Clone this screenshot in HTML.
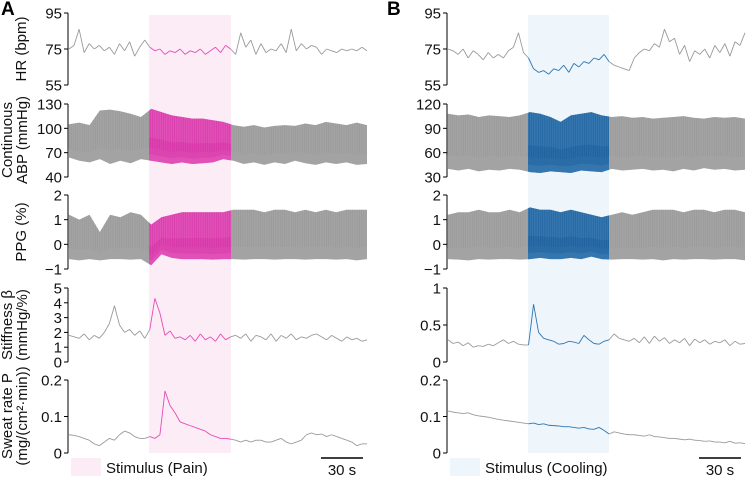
<!DOCTYPE html>
<html><head><meta charset="utf-8"><style>
html,body{margin:0;padding:0;background:#fff;}
svg{display:block;font-family:"Liberation Sans",sans-serif;}
</style></head><body>
<svg id="fig" width="750" height="478" viewBox="0 0 750 478" xmlns="http://www.w3.org/2000/svg"></svg>
<script>
// ---------- DATA ----------
const hrA=[75,77,86,73,78,75,77,74,76,72,78,74,79,71,76,80,76,74,75,72,74,73,75,72,74,73,75,72,74,76,73,77,75,72,84,76,80,72,78,73,75,74,78,73,86,74,78,75,77,76,72,75,74,73,75,74,75,74,76,74];
const abpUpA=[105,107,104,122,123,121,118,114,124,120,116,114,112,112,110,108,104,102,104,101,103,104,103,106,104,108,106,104,107,104];
const abpLoA=[64,60,58,62,56,60,57,62,60,58,56,58,56,57,58,62,60,56,58,55,58,56,60,57,55,58,56,58,55,56];
const ppgUpA=[1.2,1.0,1.2,0.5,1.2,1.1,1.3,1.2,0.8,1.1,1.2,1.3,1.3,1.3,1.3,1.3,1.4,1.4,1.4,1.3,1.4,1.4,1.3,1.4,1.3,1.4,1.3,1.4,1.4,1.4];
const ppgLoA=[-0.6,-0.65,-0.6,-0.65,-0.6,-0.6,-0.62,-0.6,-0.85,-0.4,-0.55,-0.6,-0.6,-0.6,-0.62,-0.6,-0.6,-0.62,-0.6,-0.6,-0.62,-0.6,-0.6,-0.62,-0.6,-0.6,-0.62,-0.6,-0.65,-0.6];
const stA=[1.8,1.7,1.6,1.9,1.5,1.8,1.6,2.0,2.6,3.8,2.5,2.0,2.2,1.8,2.1,1.6,2.2,4.3,3.3,1.8,2.1,1.6,1.7,1.5,1.8,1.4,1.9,1.5,1.7,1.4,1.9,1.5,1.7,1.8,1.6,1.9,1.4,1.8,1.7,1.5,1.9,1.4,1.8,1.6,1.9,1.5,1.7,1.6,1.8,1.9,1.7,1.5,1.8,1.6,1.4,1.7,1.5,1.6,1.4,1.5];
const swA=[0.05,0.048,0.045,0.04,0.035,0.025,0.02,0.03,0.04,0.035,0.05,0.06,0.055,0.045,0.04,0.04,0.045,0.04,0.05,0.17,0.13,0.11,0.085,0.08,0.075,0.07,0.065,0.06,0.05,0.045,0.04,0.04,0.038,0.035,0.03,0.035,0.03,0.035,0.035,0.03,0.03,0.035,0.04,0.03,0.025,0.03,0.035,0.05,0.055,0.05,0.052,0.045,0.05,0.045,0.04,0.035,0.03,0.02,0.025,0.025];
const hrB=[75,74,72,75,70,74,72,69,73,70,72,70,74,76,84,73,70,64,62,63,61,64,63,66,62,67,65,68,67,70,69,72,68,66,65,64,63,70,73,75,74,78,76,86,79,81,72,77,68,74,72,75,70,77,73,78,71,79,77,84];
const abpUpB=[108,106,107,104,106,105,104,106,110,108,104,98,106,108,110,106,104,105,103,104,102,103,104,105,103,102,104,103,104,102];
const abpLoB=[40,38,40,37,39,38,40,39,36,35,37,36,35,38,37,36,40,38,39,40,38,39,37,40,38,41,39,40,38,39];
const ppgUpB=[1.2,1.3,1.3,1.4,1.3,1.3,1.4,1.3,1.5,1.4,1.4,1.3,1.4,1.3,1.2,1.1,1.2,1.3,1.2,1.3,1.4,1.4,1.4,1.3,1.4,1.4,1.3,1.4,1.4,1.3];
const ppgLoB=[-0.6,-0.62,-0.65,-0.6,-0.62,-0.6,-0.6,-0.62,-0.6,-0.55,-0.6,-0.6,-0.55,-0.6,-0.5,-0.6,-0.62,-0.6,-0.6,-0.62,-0.6,-0.65,-0.6,-0.62,-0.6,-0.6,-0.62,-0.6,-0.6,-0.65];
const stB=[0.3,0.25,0.27,0.22,0.26,0.2,0.22,0.21,0.24,0.22,0.26,0.3,0.25,0.28,0.24,0.23,0.23,0.78,0.4,0.32,0.3,0.28,0.24,0.25,0.28,0.27,0.25,0.36,0.3,0.25,0.24,0.28,0.3,0.38,0.32,0.3,0.28,0.32,0.26,0.34,0.25,0.35,0.28,0.33,0.25,0.3,0.26,0.32,0.22,0.31,0.26,0.3,0.24,0.28,0.26,0.3,0.22,0.28,0.24,0.25];
const swB=[0.115,0.112,0.11,0.108,0.11,0.105,0.102,0.1,0.098,0.095,0.092,0.09,0.088,0.086,0.084,0.082,0.08,0.082,0.078,0.08,0.076,0.075,0.074,0.072,0.072,0.07,0.068,0.07,0.066,0.065,0.07,0.062,0.052,0.058,0.055,0.052,0.05,0.05,0.048,0.046,0.05,0.045,0.044,0.042,0.04,0.04,0.038,0.036,0.038,0.035,0.034,0.032,0.033,0.03,0.03,0.028,0.032,0.027,0.028,0.026];
const ticksHR=[55,75,95], ticksABPA=[40,70,100,130], ticksABPB=[30,60,90,120], ticksPPG=[-1,0,1,2];
const ticksStA=[0,1,2,3,4,5], ticksStB=[0,0.5,1], ticksSw=[0,0.1,0.2];

// ---------- DRAW ----------
const NS="http://www.w3.org/2000/svg", svg=document.getElementById('fig');
function el(tag,attrs,parent){const e=document.createElementNS(NS,tag);for(const k in attrs)e.setAttribute(k,attrs[k]);(parent||svg).appendChild(e);return e;}
function txt(s,attrs,parent){const t=el('text',attrs,parent);t.textContent=s;return t;}

const rows=[{top:13,bot:85},{top:104,bot:177},{top:195,bot:269},{top:288,bot:362},{top:380,bot:453}];

function panel(P){
  const g=el('g',{});
  
  
  const band=el('rect',{x:P.b0,y:15,width:P.b1-P.b0,height:438,fill:P.bandFill},g);
  
  
  const X=(i,n)=>P.x0+i*(P.x1-P.x0)/(n-1);
  const inBand=x=>x>=P.b0&&x<=P.b1;
  P.series.forEach((s,r)=>{
    const row=rows[r], mn=s.ticks[0], mx=s.ticks[s.ticks.length-1];
    const Y=v=>row.bot-(v-mn)/(mx-mn)*(row.bot-row.top);
    const ax=el('line',{x1:P.ax,x2:P.ax,y1:Y(mx),y2:Y(mn),stroke:'#000','stroke-width':1},g);
    
    
    s.ticks.forEach(t=>{
      el('line',{x1:P.ax-4,x2:P.ax,y1:Y(t),y2:Y(t),stroke:'#000'},g);
      const lb=txt(String(t).replace('-','\u2212'),{x:P.ax-6,y:Y(t)+5.5,'font-size':15,'text-anchor':'end',fill:'#111'},g);
      
      
    });
    if(s.line){
      const d=s.line, n=d.length;
      for(let i=0;i<n-1;i++){
        const xa=X(i,n), xb=X(i+1,n);
        const seg=el('line',{x1:xa,y1:Y(d[i]),x2:xb,y2:Y(d[i+1]),stroke:inBand((xa+xb)/2)?P.col:'#9a9a9a','stroke-width':0.9},g);
        
        
      }
    } else {
      const up=s.up, lo=s.lo, n=up.length;
      const ptsU=up.map((v,i)=>X(i,n)+','+Y(v)), ptsL=lo.map((v,i)=>X(i,n)+','+Y(v)).reverse();
      const poly=el('polygon',{points:ptsU.concat(ptsL).join(' '),fill:'#a3a3a3'},g);
      
      
      const seg=[];
      for(let i=0;i<n;i++){ if(inBand(X(i,n))) seg.push(i); }
      const interp=(arr,x)=>{const f=(x-P.x0)/(P.x1-P.x0)*(n-1);const k=Math.min(n-2,Math.floor(f));return arr[k]+(arr[k+1]-arr[k])*(f-k);};
      const xs=[P.b0]; seg.forEach(i=>xs.push(X(i,n))); xs.push(P.b1);
      const pu=xs.map(x=>x+','+Y(interp(up,x))), pl=xs.map(x=>x+','+Y(interp(lo,x))).reverse();
      const cp=el('polygon',{points:pu.concat(pl).join(' '),fill:P.col,opacity:0.95},g);
      
      
      for(let x=P.x0;x<P.x1;x+=2.2){
        const u=interp(up,x), l=interp(lo,x), b=inBand(x);
        const st=el('line',{x1:x,x2:x,y1:Y(u),y2:Y(l+(u-l)*0.25),stroke:b?P.dark:'#8c8c8c','stroke-width':0.6,opacity:0.5},g);
        
        
      }
      const mid=xs.map(x=>{const u=interp(up,x),l=interp(lo,x);return x+','+Y(l+(u-l)*0.45);});
      const mid2=xs.map(x=>{const u=interp(up,x),l=interp(lo,x);return x+','+Y(l+(u-l)*0.12);}).reverse();
      const mp=el('polygon',{points:mid.concat(mid2).join(' '),fill:P.dark,opacity:0.25},g);
      
      
    }
  });
  const lr=el('rect',{x:P.ax+3,y:458,width:30,height:18,fill:P.bandFill},g);
  
  
  const lt=txt(P.legend,{x:P.ax+38,y:473,'font-size':15,fill:'#111'},g);
  
  
  const sb=el('line',{x1:P.x1-46,x2:P.x1-4,y1:458,y2:458,stroke:'#000','stroke-width':1.5},g);
  
  
  const st=txt('30 s',{x:P.x1-25,y:475,'font-size':15,'text-anchor':'middle',fill:'#111'},g);
  
  
  const pl=txt(P.letter,{x:P.letterX,y:15,'font-size':19,'font-weight':'bold',fill:'#000'},g);
  
  
}

panel({name:'panel-a',letter:'A',letterX:1,ax:68,x0:69,x1:367,b0:149,b1:231,bandFill:'#fcecf5',col:'#e44cb8',dark:'#d0209a',legend:'Stimulus (Pain)',
  series:[{key:'hr',ticks:ticksHR,line:hrA},{key:'abp',ticks:ticksABPA,up:abpUpA,lo:abpLoA},{key:'ppg',ticks:ticksPPG,up:ppgUpA,lo:ppgLoA},{key:'stiffness',ticks:ticksStA,line:stA},{key:'sweat',ticks:ticksSw,line:swA}]});
panel({name:'panel-b',letter:'B',letterX:387,ax:447,x0:448,x1:745,b0:528,b1:609,bandFill:'#eef6fc',col:'#2f74b0',dark:'#0b4f8a',legend:'Stimulus (Cooling)',
  series:[{key:'hr',ticks:ticksHR,line:hrB},{key:'abp',ticks:ticksABPB,up:abpUpB,lo:abpLoB},{key:'ppg',ticks:ticksPPG,up:ppgUpB,lo:ppgLoB},{key:'stiffness',ticks:ticksStB,line:stB},{key:'sweat',ticks:ticksSw,line:swB}]});

const titles=[[['HR (bpm)'],49],[['Continuous','ABP (mmHg)'],140],[['PPG (%)'],232],[['Stiffness \u03B2','(mmHg/%)'],325],[['Sweat rate P','(mg/(cm\u00B2\u00B7min))'],416]];
titles.forEach(([lines,cy])=>{
  lines.forEach((s,k)=>{
    const x=lines.length===1?22:(k===0?8:23);
    const t=txt(s,{x:x,y:cy,'font-size':15,'text-anchor':'middle',fill:'#111',transform:`rotate(-90 ${x} ${cy})`,'dominant-baseline':'middle'});
    
    
  });
});
</script>
</body></html>
